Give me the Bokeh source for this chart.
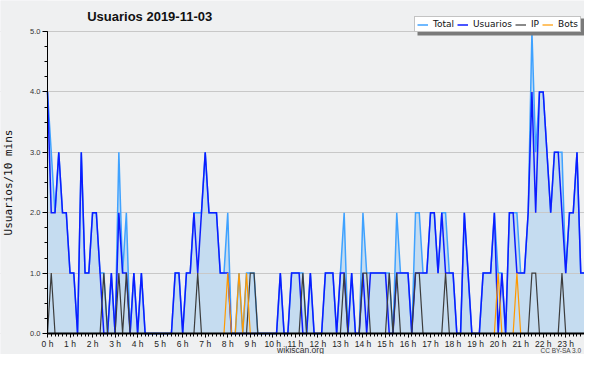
from bokeh.plotting import figure
from bokeh.models import (Range1d, SingleIntervalTicker, PrintfTickFormatter, Legend,
                          LegendItem, Label, BoxAnnotation)
from bokeh.embed import file_html
from bokeh.resources import INLINE

# ---- data: 144 ten-minute samples of 2019-11-03 ----
TITLE = "Usuarios  2019-11-03"
Y_LABEL = "Usuarios/10 mins"
FOOTER = "wikiscan.org"
LICENSE = "CC BY-SA 3.0"
SERIES = ["Total", "Usuarios", "IP", "Bots"]

HOURS = [i / 6 for i in range(144)]

TOTAL = [
    4, 3, 2, 3, 2, 2, 1, 1, 0, 3,
    1, 1, 2, 2, 1, 1, 0, 1, 0, 3,
    1, 2, 0, 1, 0, 1, 0, 0, 0, 0,
    0, 0, 0, 0, 1, 1, 0, 1, 1, 2,
    2, 2, 3, 2, 2, 2, 1, 1, 2, 0,
    0, 1, 0, 1, 1, 1, 0, 0, 0, 0,
    0, 0, 1, 0, 0, 1, 1, 1, 1, 0,
    1, 0, 0, 0, 1, 1, 1, 0, 1, 2,
    0, 1, 0, 0, 2, 1, 1, 1, 1, 1,
    1, 1, 0, 2, 1, 1, 1, 0, 2, 2,
    1, 1, 2, 2, 1, 2, 2, 1, 1, 0,
    0, 2, 1, 0, 0, 0, 1, 1, 1, 2,
    1, 1, 0, 2, 2, 2, 1, 1, 2, 5,
    3, 4, 4, 3, 2, 3, 3, 3, 1, 2,
    2, 3, 1, 1,
]

USUARIOS = [
    4, 2, 2, 3, 2, 2, 1, 1, 0, 3,
    1, 1, 2, 2, 1, 0, 0, 1, 0, 2,
    1, 1, 0, 1, 0, 1, 0, 0, 0, 0,
    0, 0, 0, 0, 1, 1, 0, 1, 1, 2,
    1, 2, 3, 2, 2, 2, 1, 1, 1, 0,
    0, 0, 0, 0, 0, 0, 0, 0, 0, 0,
    0, 0, 1, 0, 0, 1, 1, 1, 0, 0,
    1, 0, 0, 0, 1, 1, 1, 0, 1, 1,
    0, 1, 0, 0, 1, 0, 1, 1, 1, 1,
    1, 0, 0, 1, 1, 1, 1, 0, 1, 1,
    1, 1, 2, 2, 1, 2, 1, 1, 1, 0,
    0, 2, 1, 0, 0, 0, 1, 1, 1, 2,
    0, 1, 0, 2, 2, 1, 1, 1, 2, 4,
    2, 4, 4, 3, 2, 3, 3, 2, 1, 2,
    2, 3, 1, 1,
]

IP = [
    0, 1, 0, 0, 0, 0, 0, 0, 0, 0,
    0, 0, 0, 0, 0, 1, 0, 0, 0, 1,
    0, 1, 0, 0, 0, 0, 0, 0, 0, 0,
    0, 0, 0, 0, 0, 0, 0, 0, 0, 0,
    1, 0, 0, 0, 0, 0, 0, 0, 0, 0,
    0, 0, 0, 0, 1, 1, 0, 0, 0, 0,
    0, 0, 0, 0, 0, 0, 0, 0, 1, 0,
    0, 0, 0, 0, 0, 0, 0, 0, 0, 1,
    0, 0, 0, 0, 1, 1, 0, 0, 0, 0,
    0, 1, 0, 1, 0, 0, 0, 0, 1, 1,
    0, 0, 0, 0, 0, 0, 1, 0, 0, 0,
    0, 0, 0, 0, 0, 0, 0, 0, 0, 0,
    0, 0, 0, 0, 0, 0, 0, 0, 0, 1,
    1, 0, 0, 0, 0, 0, 0, 1, 0, 0,
    0, 0, 0, 0,
]

BOTS = [
    0, 0, 0, 0, 0, 0, 0, 0, 0, 0,
    0, 0, 0, 0, 0, 0, 0, 0, 0, 0,
    0, 0, 0, 0, 0, 0, 0, 0, 0, 0,
    0, 0, 0, 0, 0, 0, 0, 0, 0, 0,
    0, 0, 0, 0, 0, 0, 0, 0, 1, 0,
    0, 1, 0, 1, 0, 0, 0, 0, 0, 0,
    0, 0, 0, 0, 0, 0, 0, 0, 0, 0,
    0, 0, 0, 0, 0, 0, 0, 0, 0, 0,
    0, 0, 0, 0, 0, 0, 0, 0, 0, 0,
    0, 0, 0, 0, 0, 0, 0, 0, 0, 0,
    0, 0, 0, 0, 0, 0, 0, 0, 0, 0,
    0, 0, 0, 0, 0, 0, 0, 0, 0, 0,
    1, 0, 0, 0, 0, 1, 0, 0, 0, 0,
    0, 0, 0, 0, 0, 0, 0, 0, 0, 0,
    0, 0, 0, 0,
]

# ---- layout constants (canvas pixels) ----
W, H = 584, 354
X0_PX = 47           # where hour 0 sits
Y0_PX = 333          # where value 0 sits
PPU = 60.4           # pixels per y unit
XMAX = HOURS[-1]
PX_PER_H = (W - X0_PX) / XMAX


def dx(px):
    return (px - X0_PX) / PX_PER_H


def dy(py):
    return (Y0_PX - py) / PPU


BG = "#eff0f1"
C_TOTAL = "#3fa2ff"
C_USU = "#0c1cff"
C_IP = "#3c3c3c"
C_BOTS = "#ff9a00"
C_FILL = "#c5dcf0"

p = figure(width=W, height=H, x_range=Range1d(dx(0), dx(W)),
           y_range=Range1d(dy(H), dy(0)),
           min_border_left=0, min_border_right=0, min_border_top=0,
           min_border_bottom=0, output_backend="svg", toolbar_location=None)
p.background_fill_color = BG
p.border_fill_color = BG
p.outline_line_color = None

p.varea(x=HOURS, y1=0, y2=TOTAL, fill_color=C_FILL, fill_alpha=1, level="underlay")
r_total = p.line(HOURS, TOTAL, line_color=C_TOTAL, line_width=1.5, line_join="miter")
r_usu = p.line(HOURS, USUARIOS, line_color=C_USU, line_width=1.5, line_join="miter")
r_ip = p.line(HOURS, IP, line_color=C_IP, line_width=1.2, line_join="miter")
r_bots = p.line(HOURS, BOTS, line_color=C_BOTS, line_width=1.2, line_join="miter")

p.xgrid.grid_line_color = None
p.ygrid.ticker = SingleIntervalTicker(interval=1)
p.ygrid.grid_line_color = "#c8c8c8"
p.ygrid.grid_line_width = 1
# keep the horizontal grid lines to the right of the y axis
p.add_layout(BoxAnnotation(right=0, fill_color=BG, fill_alpha=1, line_color=None,
                           level="underlay"))

# x axis, pinned at value 0 inside the frame
xa = p.xaxis[0]
xa.fixed_location = 0
xa.bounds = (0, XMAX)
xa.ticker = SingleIntervalTicker(interval=1, num_minor_ticks=6)
xa.formatter = PrintfTickFormatter(format="%d h")
xa.axis_line_width = 2
xa.axis_line_color = "black"
xa.major_tick_out = 4
xa.major_tick_in = 0
xa.minor_tick_out = 3
xa.minor_tick_in = 0
xa.major_tick_line_color = "black"
xa.minor_tick_line_color = "black"
xa.major_label_text_font = "Liberation Sans"
xa.major_label_text_font_size = "8.5px"
xa.major_label_text_color = "#222222"
xa.major_label_standoff = 1

# y axis, pinned at hour 0 inside the frame
ya = p.yaxis[0]
ya.fixed_location = 0
ya.ticker = SingleIntervalTicker(interval=1, num_minor_ticks=4)
ya.formatter = PrintfTickFormatter(format="%.1f")
ya.bounds = (0, 5)
ya.axis_line_color = "black"
ya.axis_line_width = 1
ya.major_tick_out = 5
ya.major_tick_in = 0
ya.minor_tick_out = 3
ya.minor_tick_in = 0
ya.major_tick_line_color = "black"
ya.minor_tick_line_color = "black"
ya.major_label_text_font = "Liberation Sans"
ya.major_label_text_font_size = "7.5px"
ya.major_label_text_color = "#333333"
ya.major_label_standoff = 2
ya.axis_label = Y_LABEL
ya.axis_label_text_font = "DejaVu Sans Mono"
ya.axis_label_text_font_size = "11px"
ya.axis_label_text_font_style = "normal"
ya.axis_label_text_color = "#111111"
ya.axis_label_standoff = 12

# title and footer texts
p.add_layout(Label(x=dx(151), y=dy(16), text=TITLE, text_font="Liberation Sans",
                   text_font_style="bold", text_font_size="13px", text_color="#111111",
                   text_align="center", text_baseline="middle"))
p.add_layout(Label(x=dx(300), y=dy(349), text=FOOTER, text_font="Liberation Sans",
                   text_font_size="8.5px", text_color="#333333",
                   text_align="center", text_baseline="middle"))
p.add_layout(Label(x=dx(581), y=dy(350), text=LICENSE, text_font="Liberation Sans",
                   text_font_size="6.5px", text_color="#444444",
                   text_align="right", text_baseline="middle"))

# legend shadow + legend
LEG_X, LEG_Y, LEG_W, LEG_H = 414, 32, 167, 17   # canvas px: left, bottom, size
p.add_layout(BoxAnnotation(left=dx(LEG_X + 3), right=dx(LEG_X + LEG_W + 3),
                           top=dy(LEG_Y - LEG_H + 3), bottom=dy(LEG_Y + 3),
                           fill_color="#7a7a7a", fill_alpha=1, line_color=None))
legend = Legend(items=[LegendItem(label=SERIES[0], renderers=[r_total]),
                       LegendItem(label=SERIES[1], renderers=[r_usu]),
                       LegendItem(label=SERIES[2], renderers=[r_ip]),
                       LegendItem(label=SERIES[3], renderers=[r_bots])],
                location=(LEG_X, H - LEG_Y), orientation="horizontal",
                label_text_font="DejaVu Sans", label_text_font_size="9px",
                label_text_color="#111111",
                glyph_width=11, glyph_height=9, label_height=9, label_width=0,
                label_standoff=5, spacing=3, padding=2, margin=0,
                border_line_color="#888888", border_line_width=1,
                background_fill_color="white", background_fill_alpha=1)
p.add_layout(legend)

open("out.html", "w").write(file_html(p, INLINE))
